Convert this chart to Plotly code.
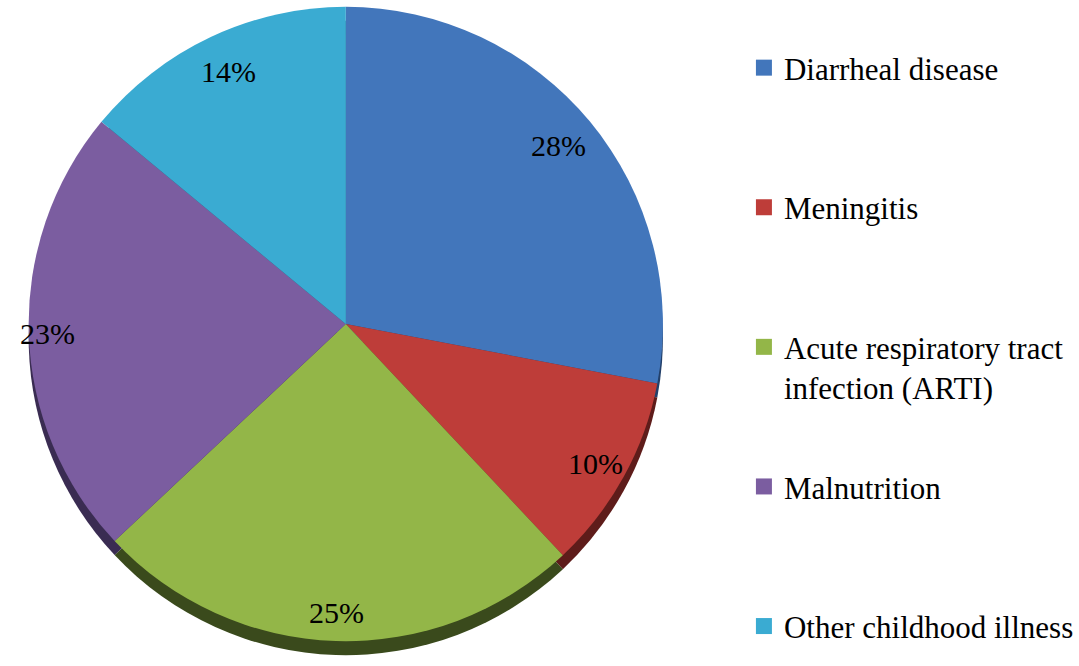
import math
import plotly.graph_objects as go

categories = ["Diarrheal disease", "Meningitis", "Acute respiratory tract infection (ARTI)",
              "Malnutrition", "Other childhood illness"]
legend_labels = ["Diarrheal disease", "Meningitis", "Acute respiratory tract<br>infection (ARTI)",
                 "Malnutrition", "Other childhood illness"]
values = [28, 10, 25, 23, 14]
colors = ["#4276bb", "#be3d39", "#93b648", "#7b5da0", "#3aabd2"]
rim_colors = ["#23406a", "#5e1c1a", "#3a4a1c", "#3a2c52", "#1d5a70"]

FONT = "Times New Roman, Liberation Serif, serif"
W, H = 1079, 666
cx, cy, d = 350, 324, 642
rim = 14
label_r = [0.87, 0.90, 0.90, 0.94, 0.87]

fig = go.Figure()

# rim (3D side) pie, shifted down
fig.add_trace(go.Pie(
    labels=categories, values=values, sort=False, direction="clockwise", rotation=0,
    marker=dict(colors=rim_colors, line=dict(width=0)),
    textinfo="none", hoverinfo="skip", showlegend=False,
    domain=dict(x=[(cx - d / 2) / W, (cx + d / 2) / W],
                y=[1 - (cy + d / 2 + rim) / H, 1 - (cy - d / 2 + rim) / H]),
))

fig.add_trace(go.Pie(
    labels=categories, values=values, sort=False, direction="clockwise", rotation=0,
    marker=dict(colors=colors, line=dict(width=0)),
    textinfo="none", showlegend=False,
    domain=dict(x=[(cx - d / 2) / W, (cx + d / 2) / W],
                y=[1 - (cy + d / 2) / H, 1 - (cy - d / 2) / H]),
))

# percentage labels placed along each slice's mid-angle
total = sum(values)
cum = 0
for v, rr in zip(values, label_r):
    mid = (cum + v / 2) / total * 2 * math.pi
    cum += v
    px = cx + rr * d / 2 * math.sin(mid)
    py = cy - rr * d / 2 * math.cos(mid)
    fig.add_annotation(
        x=px / W, y=1 - py / H, xref="paper", yref="paper",
        xanchor="center", yanchor="middle",
        text=f"{v}%", showarrow=False,
        font=dict(family=FONT, size=30, color="black"),
    )

# legend entries (each padded to two lines, spaced with group gaps)
for i, (lab, col) in enumerate(zip(legend_labels, colors)):
    n = lab.count("<br>") + 1
    pad = 0 if i == len(legend_labels) - 1 else 2 - n
    name = lab + "<br>&nbsp;" * pad
    fig.add_trace(go.Scatter(
        x=[None], y=[None], mode="markers", name=name, legendgroup=f"g{i}",
        marker=dict(symbol="square", size=17, color=col, line=dict(width=0)),
        showlegend=True,
    ))

fig.update_layout(
    width=W, height=H,
    margin=dict(l=0, r=0, t=0, b=0),
    paper_bgcolor="white", plot_bgcolor="white",
    xaxis=dict(visible=False), yaxis=dict(visible=False),
    legend=dict(
        x=753 / W, xanchor="left", y=1 - 41 / H, yanchor="top",
        font=dict(family=FONT, size=31, color="black"),
        valign="top", itemwidth=30, tracegroupgap=56,
        bgcolor="rgba(0,0,0,0)",
    ),
)

fig.write_html("out.html", config={"displayModeBar": False},
               post_script="document.body.style.margin='0px';")
